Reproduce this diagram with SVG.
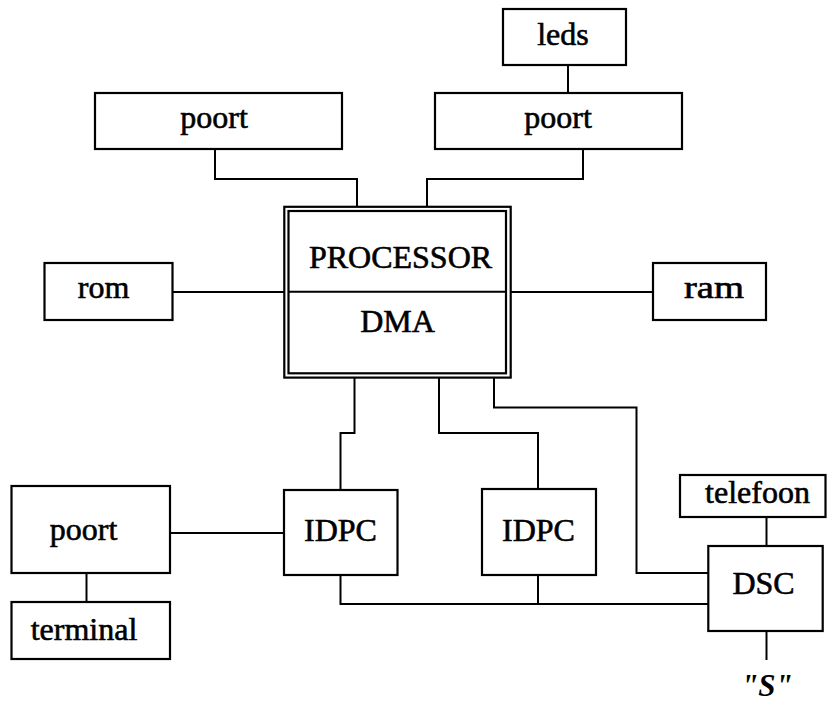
<svg xmlns="http://www.w3.org/2000/svg" width="827" height="703" viewBox="0 0 827 703">
  <style>
    .box { fill: #fff; stroke: #000; stroke-width: 2.2; }
    .wire { fill: none; stroke: #000; stroke-width: 2; }
    .lbl { font-family: "Liberation Serif", "Times New Roman", serif; font-size: 32px; fill: #000; stroke: #000; stroke-width: 0.6; text-anchor: middle; }
    .sig { font-family: "Liberation Serif", "Times New Roman", serif; font-size: 31px; font-weight: bold; font-style: italic; fill: #000; text-anchor: middle; }
  </style>
  <rect width="827" height="703" fill="#fff"/>

  <!-- connectors -->
  <g id="connectors">
    <polyline class="wire" points="215,149 215,179 357,179 357,207"/>
    <polyline class="wire" points="568,65 568,93"/>
    <polyline class="wire" points="583,149 583,179 427,179 427,207"/>
    <polyline class="wire" points="172,292 284,292"/>
    <polyline class="wire" points="511,292 653,292"/>
    <polyline class="wire" points="354.5,377 354.5,433 340.5,433 340.5,490"/>
    <polyline class="wire" points="439,377 439,433 538,433 538,489"/>
    <polyline class="wire" points="494,377 494,407.5 636.5,407.5 636.5,573 708,573"/>
    <polyline class="wire" points="170,533 284,533"/>
    <polyline class="wire" points="86.5,573 86.5,602"/>
    <polyline class="wire" points="340.5,575 340.5,604 708,604"/>
    <polyline class="wire" points="538,575 538,604"/>
    <polyline class="wire" points="766.5,517 766.5,546"/>
    <polyline class="wire" points="766.5,631 766.5,660"/>
  </g>

  <g id="poort-top-left">
    <rect class="box" x="95" y="93" width="247" height="56"/>
    <text class="lbl" x="214" y="128">poort</text>
  </g>

  <g id="leds">
    <rect class="box" x="503" y="9" width="123" height="56"/>
    <text class="lbl" x="563" y="45">leds</text>
  </g>

  <g id="poort-top-right">
    <rect class="box" x="435" y="93" width="247" height="56"/>
    <text class="lbl" x="558" y="128">poort</text>
  </g>

  <g id="processor">
    <rect class="box" x="284.3" y="206.8" width="226.4" height="170.8"/>
    <rect class="box" x="288.5" y="211" width="217.5" height="162.3" stroke-width="1.8"/>
    <line class="wire" x1="288.5" y1="291.8" x2="506" y2="291.8"/>
    <text class="lbl" x="400.5" y="268">PROCESSOR</text>
    <text class="lbl" x="397.5" y="332">DMA</text>
  </g>

  <g id="rom">
    <rect class="box" x="44.5" y="263" width="128" height="57"/>
    <text class="lbl" x="103.5" y="297.5">rom</text>
  </g>

  <g id="ram">
    <rect class="box" x="653" y="263" width="113" height="57"/>
    <text class="lbl" x="714" y="297.5" textLength="60" lengthAdjust="spacingAndGlyphs">ram</text>
  </g>

  <g id="poort-left">
    <rect class="box" x="11.5" y="486" width="158.5" height="87"/>
    <text class="lbl" x="83.5" y="540">poort</text>
  </g>

  <g id="terminal">
    <rect class="box" x="11.5" y="602" width="158.5" height="57"/>
    <text class="lbl" x="84" y="640">terminal</text>
  </g>

  <g id="idpc-1">
    <rect class="box" x="284" y="490" width="113.5" height="85"/>
    <text class="lbl" x="340.5" y="541">IDPC</text>
  </g>

  <g id="idpc-2">
    <rect class="box" x="482" y="489" width="114" height="86"/>
    <text class="lbl" x="538.5" y="541">IDPC</text>
  </g>

  <g id="telefoon">
    <rect class="box" x="680" y="475" width="145.5" height="42"/>
    <text class="lbl" x="757.5" y="503">telefoon</text>
  </g>

  <g id="dsc">
    <rect class="box" x="708.3" y="546" width="114.4" height="85"/>
    <text class="lbl" x="763.5" y="594">DSC</text>
  </g>

  <g id="s-interface">
    <text class="sig" x="767" y="696">"S"</text>
  </g>
</svg>
